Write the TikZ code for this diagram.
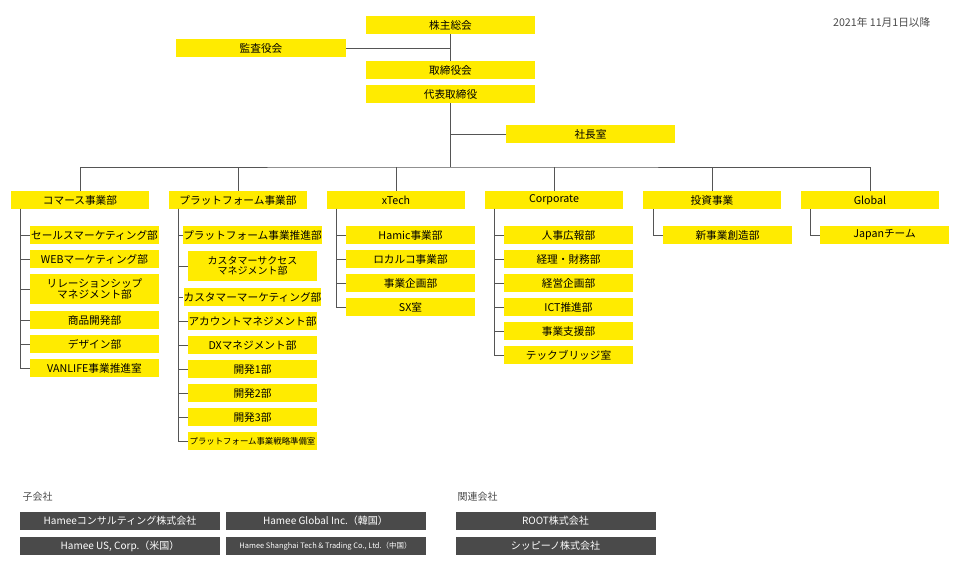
\documentclass[tikz,border=0pt]{standalone}
\usepackage{fontspec}
\setmainfont{Noto Sans CJK JP}
\definecolor{yel}{HTML}{FFEB00}
\definecolor{drk}{HTML}{4A4A4A}
\definecolor{ln}{HTML}{555555}
\begin{document}
\begin{tikzpicture}[x=0.75pt,y=-0.75pt,
  yb/.style={fill=yel,draw=none,minimum height=13.5pt,inner sep=0pt,font=\fontsize{8}{9}\selectfont,align=center},
  w170/.style={yb,minimum width=127pt},
  w140/.style={yb,minimum width=104pt},
  w130/.style={yb,minimum width=97pt},
  tall/.style={minimum height=23pt,font=\fontsize{8}{8.5}\selectfont},
  db/.style={fill=drk,draw=none,text=white,minimum height=13.5pt,minimum width=150pt,inner sep=0pt,font=\fontsize{7.5}{9}\selectfont},
  conn/.style={draw=ln,line width=0.6pt}]
\useasboundingbox (0,0) rectangle (960,570);
\node[anchor=east,font=\fontsize{8}{9}\selectfont,text=drk] (date) at (935,22) {2021年\ 11月1日以降};
\node[w170] (kabu) at (450.5,25) {株主総会};
\node[w170] (kansa) at (261,48) {監査役会};
\node[w170] (tori) at (450.5,70) {取締役会};
\node[w170] (daihyo) at (450.5,94) {代表取締役};
\node[w170] (shacho) at (590.5,134) {社長室};
\draw[conn] (kabu.south) -- (tori.north);
\draw[conn] (kansa.east) -- (kansa.east -| kabu.south);
\coordinate (bus) at (450.5,167);
\draw[conn] (daihyo.south) -- (bus);
\draw[conn] (shacho.west -| daihyo.south) -- (shacho.west);
\node[w140] (d1) at (80,200) {コマース事業部};
\node[w140] (d2) at (238,200) {プラットフォーム事業部};
\node[w140] (d3) at (396,200) {xTech};
\node[w140] (d4) at (554,200) {Corporate};
\node[w140] (d5) at (712,200) {投資事業};
\node[w140] (d6) at (870,200) {Global};
\draw[conn] (d1.north) |- (bus) -| (d6.north);
\foreach \d in {d2,d3,d4,d5} \draw[conn] (\d.north) -- (\d.north |- bus);
% commerce
\node[w130] (c1) at (94.5,235) {セールスマーケティング部};
\node[w130] (c2) at (94.5,259) {WEBマーケティング部};
\node[w130,tall] (c3) at (94.5,289) {リレーションシップ\\マネジメント部};
\node[w130] (c4) at (94.5,320) {商品開発部};
\node[w130] (c5) at (94.5,344) {デザイン部};
\node[w130] (c6) at (94.5,368) {VANLIFE事業推進室};
\coordinate (c0) at (20,209);
\foreach \c in {c1,c2,c3,c4,c5,c6} \draw[conn] (c0) |- (\c.west);
% platform
\begin{scope}[every node/.append style={font=\fontsize{7}{8}\selectfont}]
\node[w130] (p1) at (252.5,235) {プラットフォーム事業推進部};
\node[w130,tall,font=\fontsize{7.5}{8}\selectfont] (p2) at (252.5,266) {カスタマーサクセス\\マネジメント部};
\node[w130] (p3) at (252.5,297) {カスタマーマーケティング部};
\node[w130] (p4) at (252.5,321) {アカウントマネジメント部};
\node[w130,font=\fontsize{8}{9}\selectfont] (p5) at (252.5,345) {DXマネジメント部};
\node[w130,font=\fontsize{8}{9}\selectfont] (p6) at (252.5,369) {開発1部};
\node[w130,font=\fontsize{8}{9}\selectfont] (p7) at (252.5,393) {開発2部};
\node[w130,font=\fontsize{8}{9}\selectfont] (p8) at (252.5,417) {開発3部};
\node[w130,font=\fontsize{6.3}{7}\selectfont] (p9) at (252.5,441) {プラットフォーム事業戦略準備室};
\end{scope}
\coordinate (p0) at (178,209);
\foreach \c in {p1,p2,p3,p4,p5,p6,p7,p8,p9} \draw[conn] (p0) |- (\c.west);
% xtech
\node[w130] (x1) at (410.5,235) {Hamic事業部};
\node[w130] (x2) at (410.5,259) {ロカルコ事業部};
\node[w130] (x3) at (410.5,283) {事業企画部};
\node[w130] (x4) at (410.5,307) {SX室};
\coordinate (x0) at (336,209);
\foreach \c in {x1,x2,x3,x4} \draw[conn] (x0) |- (\c.west);
% corporate
\node[w130] (k1) at (568.5,235) {人事広報部};
\node[w130] (k2) at (568.5,259) {経理・財務部};
\node[w130] (k3) at (568.5,283) {経営企画部};
\node[w130] (k4) at (568.5,307) {ICT推進部};
\node[w130] (k5) at (568.5,331) {事業支援部};
\node[w130] (k6) at (568.5,355) {テックブリッジ室};
\coordinate (k0) at (494,209);
\foreach \c in {k1,k2,k3,k4,k5,k6} \draw[conn] (k0) |- (\c.west);
% invest, global
\node[w130] (i1) at (727.5,235) {新事業創造部};
\coordinate (i0) at (653,209);
\draw[conn] (i0) |- (i1.west);
\node[w130] (g1) at (884.5,235) {Japanチーム};
\coordinate (g0) at (810,209);
\draw[conn] (g0) |- (g1.west);
% bottom
\node[anchor=west,font=\fontsize{7.5}{9}\selectfont,text=drk] (ko) at (18,497) {子会社};
\node[anchor=west,font=\fontsize{7.5}{9}\selectfont,text=drk] (kan) at (453,497) {関連会社};
\node[db] (s1) at (120,521) {Hameeコンサルティング株式会社};
\node[db] (s2) at (325.5,521) {Hamee Global Inc.（韓国）};
\node[db] (s3) at (120,546) {Hamee US, Corp.（米国）};
\node[db,font=\fontsize{5.6}{7}\selectfont] (s4) at (325.5,546) {Hamee Shanghai Tech \& Trading Co., Ltd.（中国）};
\node[db] (r1) at (555.5,521) {ROOT株式会社};
\node[db] (r2) at (555.5,546) {シッピーノ株式会社};
\end{tikzpicture}
\end{document}
